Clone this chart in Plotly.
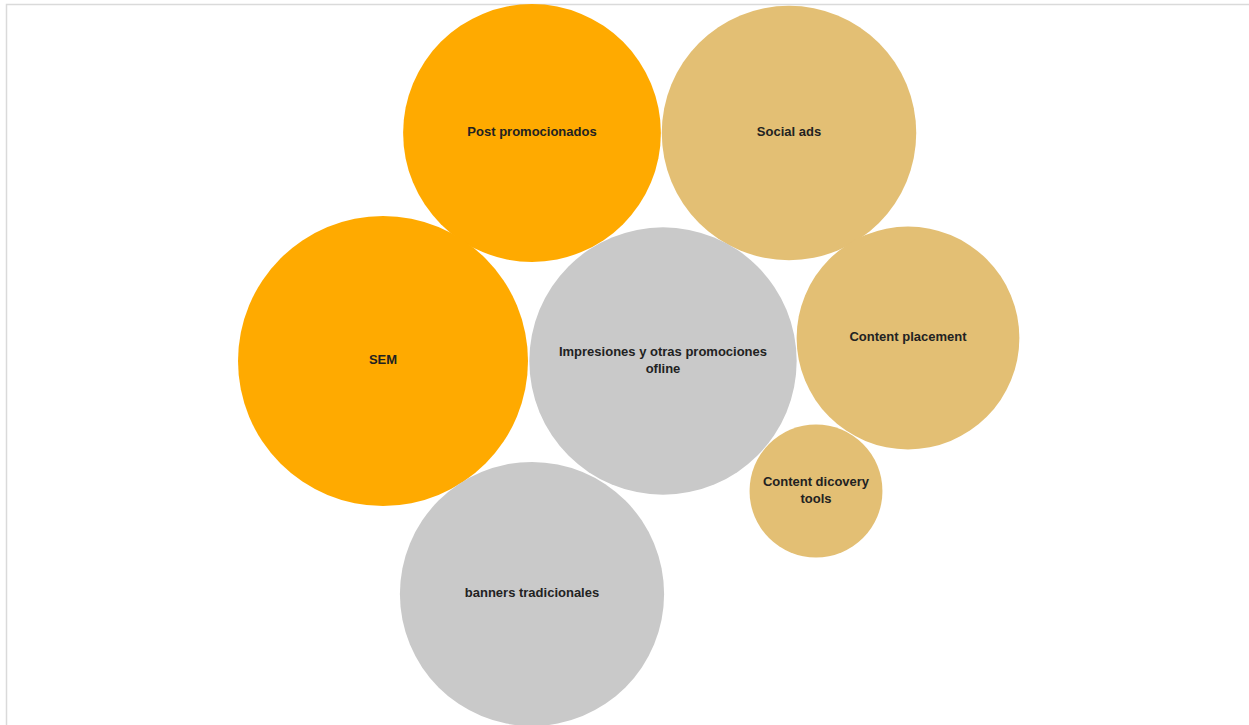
import plotly.graph_objects as go

# ---- data ----
categories = [
    "Post promocionados",
    "Social ads",
    "SEM",
    "Impresiones y otras promociones<br>ofline",
    "Content placement",
    "Content dicovery<br>tools",
    "banners tradicionales",
]
values = [79, 77, 100, 85, 59, 21, 83]
groups = ["digital", "social", "digital", "offline", "social", "social", "offline"]

# ---- packed-bubble layout (pixel anchors of the packing) ----
pack_x = [532, 789, 383, 663, 908, 816, 532]
pack_y = [133, 133, 361, 361, 338, 491, 594]

group_colors = {"digital": "#FFAA00", "social": "#E3BF74", "offline": "#C9C9C9"}

W, H = 1249, 725
# largest bubble: 290 px diameter
sizeref = 2.0 * max(values) / (290 ** 2)

fig = go.Figure()
fig.add_trace(go.Scatter(
    x=pack_x,
    y=pack_y,
    mode="markers+text",
    text=categories,
    textposition="middle center",
    textfont=dict(family="Liberation Sans, Arial, sans-serif", size=13, color="#222222", weight="bold"),
    marker=dict(
        size=values,
        sizemode="area",
        sizeref=sizeref,
        color=[group_colors[g] for g in groups],
        opacity=1,
        line=dict(width=0),
    ),
    hoverinfo="skip",
    cliponaxis=True,
))

fig.update_layout(
    width=W,
    height=H,
    margin=dict(l=0, r=0, t=0, b=0),
    paper_bgcolor="white",
    plot_bgcolor="white",
    showlegend=False,
    xaxis=dict(range=[0, W], visible=False, fixedrange=True),
    yaxis=dict(range=[H, 0], visible=False, fixedrange=True),
    shapes=[dict(
        type="rect", xref="paper", yref="paper",
        x0=6.5 / W, x1=1.01, y0=-0.01, y1=1 - 4.5 / H,
        line=dict(color="#DADADA", width=1.5),
        fillcolor="rgba(0,0,0,0)",
        layer="below",
    )],
)

fig.write_html(
    "out.html",
    config={"displayModeBar": False},
    post_script="document.body.style.margin='0';document.body.style.overflow='hidden';",
)
